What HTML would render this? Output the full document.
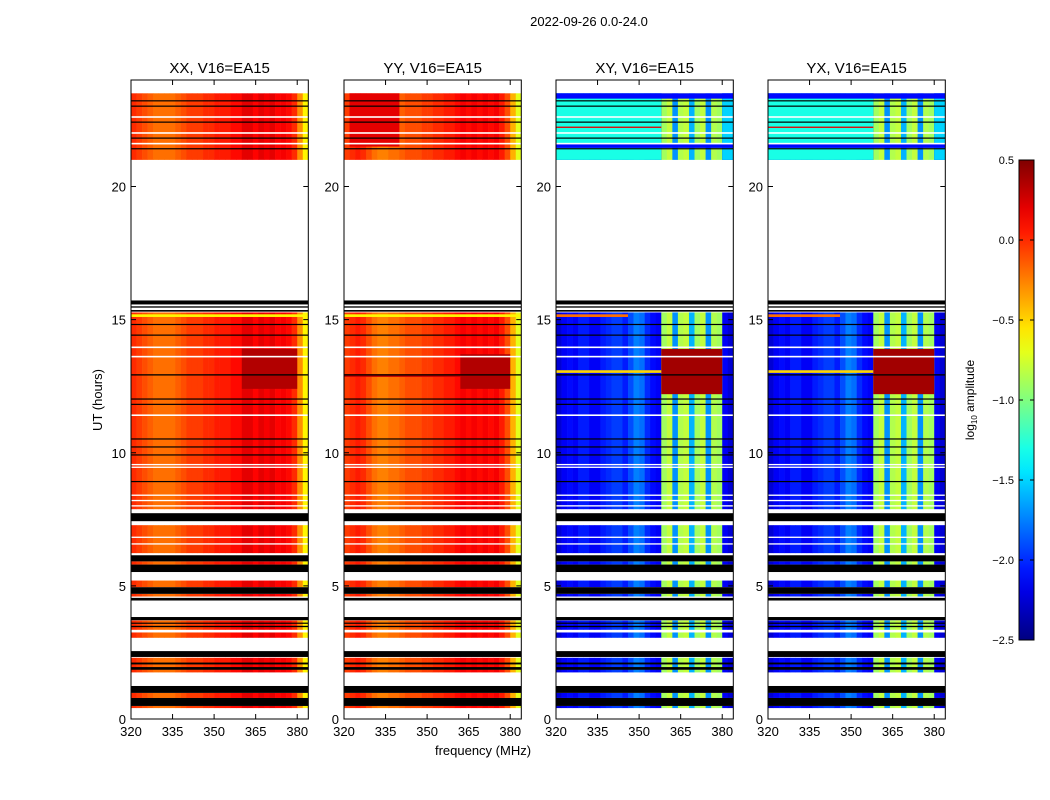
<!DOCTYPE html>
<html><head><meta charset="utf-8"><style>
body{margin:0;background:#fff}
svg{display:block;font-family:"Liberation Sans",sans-serif}
</style></head><body>
<svg id="fig" width="1050" height="800" viewBox="0 0 1050 800">
<text x="589" y="26" font-size="13" text-anchor="middle">2022-09-26 0.0-24.0</text>
<text transform="translate(102,400) rotate(-90)" font-size="13" text-anchor="middle">UT (hours)</text>
<text x="483" y="755" font-size="13" text-anchor="middle">frequency (MHz)</text>
</svg>
<script>
const panelTitles = ["XX, V16=EA15","YY, V16=EA15","XY, V16=EA15","YX, V16=EA15"];
const freqBins = [320,322,324,326,328,330,332,334,336,338,340,342,344,346,348,350,352,354,356,358,360,362,364,366,368,370,372,374,376,378,380,382];
const xxProfile = [0.0,-0.05,-0.1,-0.15,-0.2,-0.2,-0.2,-0.2,-0.15,-0.1,-0.05,-0.05,-0.05,0.0,0.0,0.05,0.05,0.05,0.1,0.1,0.2,0.2,0.12,0.2,0.15,0.2,0.12,0.15,0.1,0.0,-0.3,-0.6];
const yyProfile = [-0.05,0.0,0.05,0.0,-0.1,-0.2,-0.25,-0.25,-0.2,-0.2,-0.15,-0.1,-0.1,-0.1,-0.05,-0.05,0.0,0.0,0.05,0.05,0.1,0.15,0.1,0.15,0.1,0.15,0.1,0.15,0.05,-0.1,-0.4,-0.7];
const xyProfile = [-2.25,-2.15,-2.1,-2.15,-2.05,-2.05,-2.15,-2.15,-2.05,-2.0,-1.95,-1.95,-2.05,-1.9,-1.75,-1.8,-2.0,-2.1,-2.15,-0.9,-0.8,-1.7,-0.85,-0.8,-1.6,-0.9,-0.8,-1.7,-0.85,-0.9,-2.15,-2.25];
const yxProfile = [-2.25,-2.15,-2.1,-2.15,-2.05,-2.05,-2.15,-2.15,-2.05,-2.0,-1.95,-1.95,-2.05,-1.9,-1.75,-1.8,-2.0,-2.1,-2.15,-0.9,-0.8,-1.7,-0.85,-0.8,-1.6,-0.9,-0.8,-1.7,-0.85,-0.9,-2.15,-2.25];
const dataSegments = [[0.41,0.49],[0.79,0.98],[1.75,2.3],[3.05,3.25],[3.35,3.7],[4.6,4.7],[4.95,5.2],[5.8,5.92],[6.23,7.28],[7.88,15.27],[21.0,23.5]];
const blackSegments = [[0.49,0.79],[0.98,1.24],[1.85,1.95],[2.05,2.12],[2.33,2.55],[3.45,3.5],[3.58,3.62],[3.71,3.83],[4.45,4.55],[4.7,4.95],[5.52,5.8],[5.92,6.15],[7.43,7.73],[15.3,15.36],[15.45,15.5],[15.57,15.72],[14.8,14.84],[14.4,14.44],[12.9,12.95],[12.0,12.04],[11.8,11.84],[10.5,10.54],[10.2,10.24],[9.9,9.94],[8.9,8.94],[23.2,23.24],[23.0,23.04],[22.4,22.44],[21.8,21.84],[21.4,21.44]];
const whiteLines = [[13.93,13.99],[13.58,13.64],[11.38,11.44],[9.53,9.58],[9.43,9.48],[8.38,8.43],[8.18,8.23],[7.98,8.03],[22.58,22.64],[21.98,22.04],[21.58,21.64],[6.8,6.85],[6.55,6.6]];
const xxFeatures = [[12.4,13.9,360,380,0.35],[15.1,15.2,320,384,-0.6]];
const yyFeatures = [[12.4,13.7,362,380,0.35],[12.85,12.95,320,362,0.3],[15.1,15.2,320,384,-0.6],[21.5,23.5,322,340,0.2]];
const xyFeatures = [[12.2,13.9,358,380,0.4],[13.0,13.1,320,358,-0.5],[21.0,23.5,320,358,-1.3],[21.0,23.5,380,384,-1.5],[23.3,23.5,320,384,-2.1],[21.45,21.6,320,384,-2.1],[22.2,22.25,320,358,0.2],[15.1,15.2,320,346,-0.2]];
const yxFeatures = [[12.2,13.9,358,380,0.4],[13.0,13.1,320,358,-0.5],[21.0,23.5,320,358,-1.3],[21.0,23.5,380,384,-1.5],[23.3,23.5,320,384,-2.1],[21.45,21.6,320,384,-2.1],[22.2,22.25,320,358,0.2],[15.1,15.2,320,346,-0.2]];
const xTicks = [320,335,350,365,380];
const yTicks = [0,5,10,15,20];
const cbTicks = [0.5,0.0,-0.5,-1.0,-1.5,-2.0,-2.5];

const profiles=[xxProfile,yyProfile,xyProfile,yxProfile];
const features=[xxFeatures,yyFeatures,xyFeatures,yxFeatures];
const panelX=[131,344,556,768], PW=177.3, TOP=80, BOT=719;
const VMIN=-2.5, VMAX=0.5;
const NS='http://www.w3.org/2000/svg';
const svg=document.getElementById('fig');
function mk(tag,attrs,parent){const e=document.createElementNS(NS,tag);for(const k in attrs)e.setAttribute(k,attrs[k]);(parent||svg).appendChild(e);return e;}
function jet(v){let t=(v-VMIN)/(VMAX-VMIN);t=Math.max(0,Math.min(1,t));
 const c=x=>Math.max(0,Math.min(1,x));
 const r=c(1.5-Math.abs(4*t-3)),g=c(1.5-Math.abs(4*t-2)),b=c(1.5-Math.abs(4*t-1));
 return `rgb(${Math.round(r*255)},${Math.round(g*255)},${Math.round(b*255)})`;}
const yS=t=>BOT-t*(BOT-TOP)/24;
for(let p=0;p<4;p++){
 const x0=panelX[p]; const xS=f=>x0+(f-320)*PW/64;
 const clip=mk('clipPath',{id:'c'+p}); mk('rect',{x:x0,y:TOP,width:PW,height:BOT-TOP},clip);
 const g=mk('g',{'clip-path':'url(#c'+p+')'});
 
 
 dataSegments.forEach(s=>{
  freqBins.forEach((f,i)=>{
   const r=mk('rect',{x:xS(f),y:yS(s[1]),width:xS(f+2)-xS(f)+0.3,height:yS(s[0])-yS(s[1]),fill:jet(profiles[p][i])},g);
   
   
  });
  features[p].forEach(ft=>{
   const a=Math.max(ft[0],s[0]),b=Math.min(ft[1],s[1]); if(b<=a)return;
   const r=mk('rect',{x:xS(ft[2]),y:yS(b),width:xS(ft[3])-xS(ft[2]),height:yS(a)-yS(b),fill:jet(ft[4])},g);
   
   
  });
 });
 whiteLines.forEach(s=>{const r=mk('rect',{x:x0,y:yS(s[1]),width:PW,height:Math.max(1,yS(s[0])-yS(s[1])),fill:'#fff'},g);
  });
 blackSegments.forEach(s=>{const r=mk('rect',{x:x0,y:yS(s[1]),width:PW,height:Math.max(1.2,yS(s[0])-yS(s[1])),fill:'#000'},g);
  });
 const fr=mk('rect',{x:x0,y:TOP,width:PW,height:BOT-TOP,fill:'none',stroke:'#000','stroke-width':1});
 
 const tt=mk('text',{x:x0+PW/2,y:TOP-7,'font-size':15,'text-anchor':'middle'}); tt.textContent=panelTitles[p];
 
 xTicks.forEach(f=>{const x=xS(f);
  mk('line',{x1:x,x2:x,y1:BOT,y2:BOT-5,stroke:'#000'});mk('line',{x1:x,x2:x,y1:TOP,y2:TOP+5,stroke:'#000'});
  const t=mk('text',{x:x,y:BOT+17,'font-size':13,'text-anchor':'middle'});t.textContent=f;
  });
 yTicks.forEach(v=>{const y=yS(v);
  mk('line',{x1:x0,x2:x0+5,y1:y,y2:y,stroke:'#000'});mk('line',{x1:x0+PW,x2:x0+PW-5,y1:y,y2:y,stroke:'#000'});
  const t=mk('text',{x:x0-5,y:y+5,'font-size':13,'text-anchor':'end'});t.textContent=v;
  });
}
// colorbar
const CBX=1019,CBW=15,CBT=160,CBB=640;
const defs=mk('defs',{});const lg=mk('linearGradient',{id:'jetg',x1:0,y1:1,x2:0,y2:0},defs);
for(let i=0;i<=20;i++){mk('stop',{offset:i/20,'stop-color':jet(VMIN+(VMAX-VMIN)*i/20)},lg);}
const cb=mk('rect',{x:CBX,y:CBT,width:CBW,height:CBB-CBT,fill:'url(#jetg)',stroke:'#000'});

const cbS=v=>CBB-(v-VMIN)*(CBB-CBT)/(VMAX-VMIN);
cbTicks.forEach(v=>{const y=cbS(v);
 mk('line',{x1:CBX,x2:CBX+4,y1:y,y2:y,stroke:'#000'});
 mk('line',{x1:CBX+CBW-4,x2:CBX+CBW,y1:y,y2:y,stroke:'#000'});
 const t=mk('text',{x:CBX-5,y:y+4,'font-size':11,'text-anchor':'end'});t.textContent=(v<0?'\u2212':'')+Math.abs(v).toFixed(1);
 });
const cl=mk('text',{transform:'translate(974,400) rotate(-90)','font-size':12,'text-anchor':'middle'});
cl.innerHTML='log<tspan font-size="8" dy="3">10</tspan><tspan dy="-3"> amplitude</tspan>';

</script>
</body></html>
